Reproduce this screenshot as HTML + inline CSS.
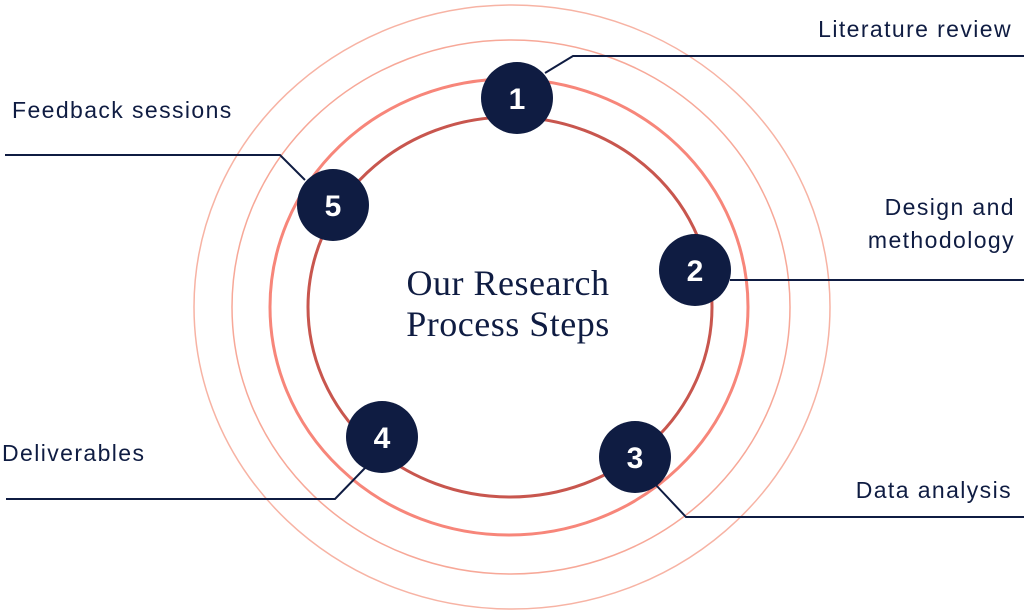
<!DOCTYPE html>
<html><head><meta charset="utf-8"><style>
html,body{margin:0;padding:0;background:#fff;}
svg{display:block}
</style></head><body>
<svg width="1024" height="613" viewBox="0 0 1024 613" xmlns="http://www.w3.org/2000/svg">
<g fill="none">
<ellipse cx="512" cy="307" rx="318" ry="302" stroke="#f7b3a4" stroke-width="1.5"/>
<ellipse cx="511" cy="307" rx="279" ry="267" stroke="#f7a898" stroke-width="1.5"/>
<ellipse cx="509" cy="307" rx="239" ry="228" stroke="#f7867a" stroke-width="3"/>
<ellipse cx="510" cy="307" rx="202" ry="190" stroke="#c8564e" stroke-width="3"/>
</g>
<g fill="none" stroke="#0f1c42" stroke-width="2">
<polyline points="545,73 573,56 1024,56"/>
<polyline points="730,280 1024,280"/>
<polyline points="655,484 686,517 1024,517"/>
<polyline points="365,468 335,499 6,499"/>
<polyline points="305,180 280,155 5,155"/>
</g>
<g fill="#0f1c42">
<circle cx="517" cy="98" r="36"/>
<circle cx="695" cy="270" r="36"/>
<circle cx="635" cy="457" r="36"/>
<circle cx="382" cy="437" r="36"/>
<circle cx="333" cy="205" r="36"/>
</g>
<g fill="#fff" font-family="Liberation Sans, sans-serif" font-weight="bold" font-size="30" text-anchor="middle">
<text x="517" y="109">1</text>
<text x="695" y="281">2</text>
<text x="635" y="468">3</text>
<text x="382" y="448">4</text>
<text x="333" y="216">5</text>
</g>
<g fill="#0f1c42" font-family="Liberation Serif, serif" font-size="36" letter-spacing="0.5" text-anchor="middle">
<text x="508" y="295">Our Research</text>
<text x="508" y="336">Process Steps</text>
</g>
<g fill="#0f1c42" font-family="Liberation Sans, sans-serif" font-size="23" letter-spacing="1.4">
<text x="1012" y="37" text-anchor="end">Literature review</text>
<text x="1015" y="215" text-anchor="end">Design and</text>
<text x="1015" y="248" text-anchor="end">methodology</text>
<text x="1012" y="498" text-anchor="end">Data analysis</text>
<text x="2" y="461">Deliverables</text>
<text x="12" y="118">Feedback sessions</text>
</g>
</svg>
</body></html>
